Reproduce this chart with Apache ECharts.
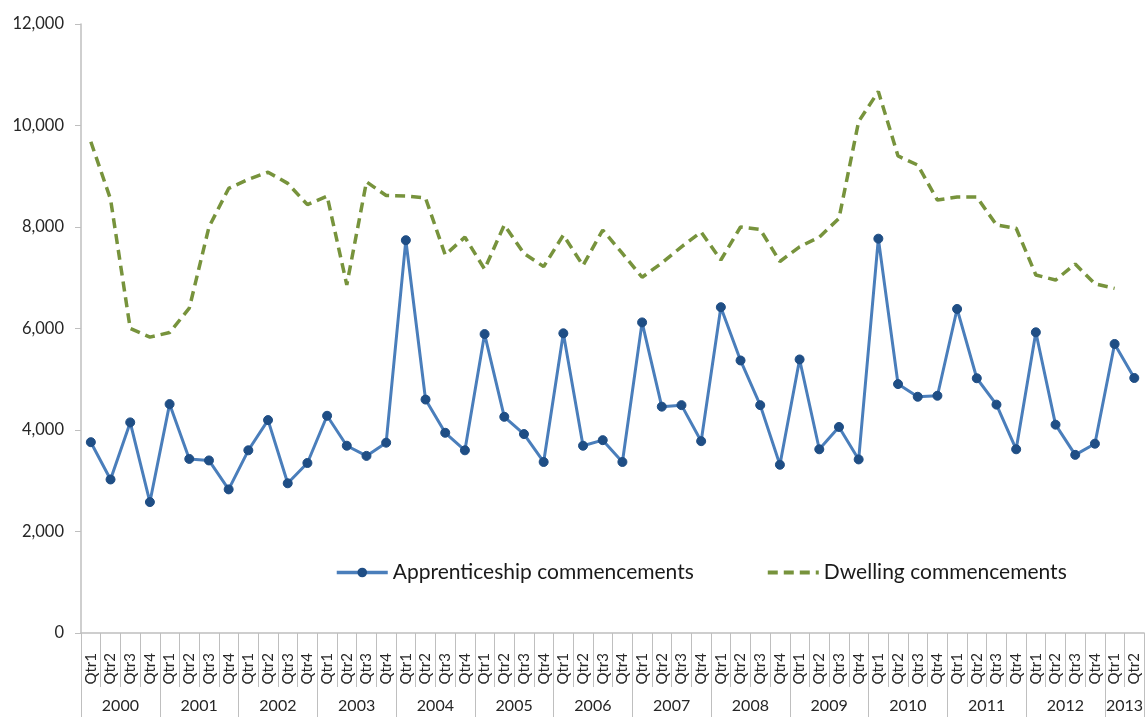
<!DOCTYPE html>
<html>
<head>
<meta charset="utf-8">
<script src="https://cdn.jsdelivr.net/npm/echarts@6/dist/echarts.min.js"></script>
<style>
  html, body { margin: 0; padding: 0; background: #ffffff; }
  #chart { width: 1146px; height: 717px; }
</style>
</head>
<body>
<div id="chart"></div>
<script>
// Quarterly series, 2000 Qtr1 to 2013 Qtr2
const years = ['2000','2001','2002','2003','2004','2005','2006','2007','2008','2009','2010','2011','2012','2013'];
const quartersPerYear = [4,4,4,4,4,4,4,4,4,4,4,4,4,2];
const quarterNames = ['Qtr1','Qtr2','Qtr3','Qtr4'];

const apprenticeship = [
  3760, 3025, 4150, 2580,
  4510, 3430, 3400, 2830,
  3600, 4195, 2950, 3350,
  4280, 3690, 3490, 3750,
  7740, 4600, 3945, 3600,
  5890, 4260, 3920, 3370,
  5905, 3690, 3800, 3370,
  6120, 4460, 4490, 3780,
  6420, 5370, 4490, 3315,
  5390, 3620, 4060, 3420,
  7770, 4905, 4655, 4675,
  6385, 5020, 4500, 3620,
  5925, 4105, 3510, 3730,
  5695, 5025
];

const dwelling = [
  9680, 8550, 6000, 5830,
  5920, 6400, 8000, 8760,
  8940, 9080, 8860, 8440,
  8610, 6860, 8890, 8620,
  8610, 8570, 7450, 7800,
  7170, 8040, 7480, 7220,
  7840, 7240, 7940, 7480,
  7010, 7290, 7610, 7900,
  7350, 8000, 7950, 7320,
  7610, 7800, 8170, 10080,
  10670, 9400, 9220, 8530,
  8590, 8590, 8040, 7975,
  7055, 6955, 7270, 6880,
  6790
];

const yTickInterval = 2000;
const yMax = 12000;

// Quarter categories along the lower axis
const categories = [];
years.forEach((y, i) => {
  for (let q = 0; q < quartersPerYear[i]; q++) categories.push(quarterNames[q]);
});

// Year row: one slot per quarter boundary, labels centred in each year span
const yearSlots = new Array(categories.length + 1).fill('');
const yearBoundaries = new Set();
let start = 0;
years.forEach((y, i) => {
  const n = quartersPerYear[i];
  yearBoundaries.add(start);
  yearBoundaries.add(start + n);
  yearSlots[start + n / 2] = y;
  start += n;
});

const fontFamily = 'Lato, "Open Sans", "Noto Sans", sans-serif';
const axisGrey = '#bfbfbf';

const chart = echarts.init(document.getElementById('chart'));
chart.setOption({
  animation: false,
  backgroundColor: '#ffffff',
  textStyle: { fontFamily: fontFamily },
  grid: { left: 81, right: 0, top: 24, bottom: 84, containLabel: false },
  legend: {
    left: 335,
    top: 562,
    padding: 0,
    itemWidth: 51,
    itemHeight: 12,
    itemGap: 72,
    textStyle: { fontSize: 21, color: '#1a1a1a', fontFamily: fontFamily },
    data: [
      { name: 'Apprenticeship commencements', lineStyle: { width: 3.5 } },
      { name: 'Dwelling commencements', itemStyle: { opacity: 0 }, lineStyle: { width: 4 } }
    ]
  },
  xAxis: [
    {
      type: 'category',
      data: categories,
      boundaryGap: true,
      position: 'bottom',
      axisLine: { show: true, lineStyle: { color: axisGrey, width: 1.5 } },
      axisTick: { show: true, interval: 0, length: 54, lineStyle: { color: axisGrey, width: 1 } },
      axisLabel: {
        interval: 0,
        rotate: 90,
        margin: 20,
        fontSize: 15,
        color: '#262626',
        fontFamily: fontFamily
      },
      splitLine: { show: false }
    },
    {
      type: 'category',
      data: yearSlots,
      boundaryGap: false,
      position: 'bottom',
      axisLine: { show: false },
      axisTick: {
        show: true,
        length: 85,
        interval: (index) => yearBoundaries.has(index),
        lineStyle: { color: axisGrey, width: 1 }
      },
      axisLabel: {
        interval: (index, value) => value !== '',
        margin: 65,
        fontSize: 16,
        color: '#262626',
        fontFamily: fontFamily,
        hideOverlap: false
      },
      splitLine: { show: false }
    }
  ],
  yAxis: {
    type: 'value',
    min: 0,
    max: yMax,
    interval: yTickInterval,
    axisLine: { show: true, lineStyle: { color: axisGrey, width: 1.5 } },
    axisTick: { show: true, length: 6, lineStyle: { color: axisGrey } },
    splitLine: { show: false },
    axisLabel: {
      margin: 17,
      fontSize: 16.5,
      color: '#262626',
      fontFamily: fontFamily,
      formatter: (v) => v.toLocaleString('en-US')
    }
  },
  series: [
    {
      name: 'Apprenticeship commencements',
      type: 'line',
      xAxisIndex: 0,
      data: apprenticeship,
      symbol: 'circle',
      symbolSize: 9,
      showAllSymbol: true,
      itemStyle: { color: '#1f4e85', borderColor: '#1f4e85' },
      lineStyle: { color: '#4a7ebb', width: 3 },
      z: 3
    },
    {
      name: 'Dwelling commencements',
      type: 'line',
      xAxisIndex: 0,
      data: dwelling,
      showSymbol: false,
      symbol: 'none',
      itemStyle: { color: '#77933c' },
      lineStyle: { color: '#77933c', width: 3.5, type: [10, 6] },
      z: 2
    }
  ]
});
</script>
</body>
</html>
